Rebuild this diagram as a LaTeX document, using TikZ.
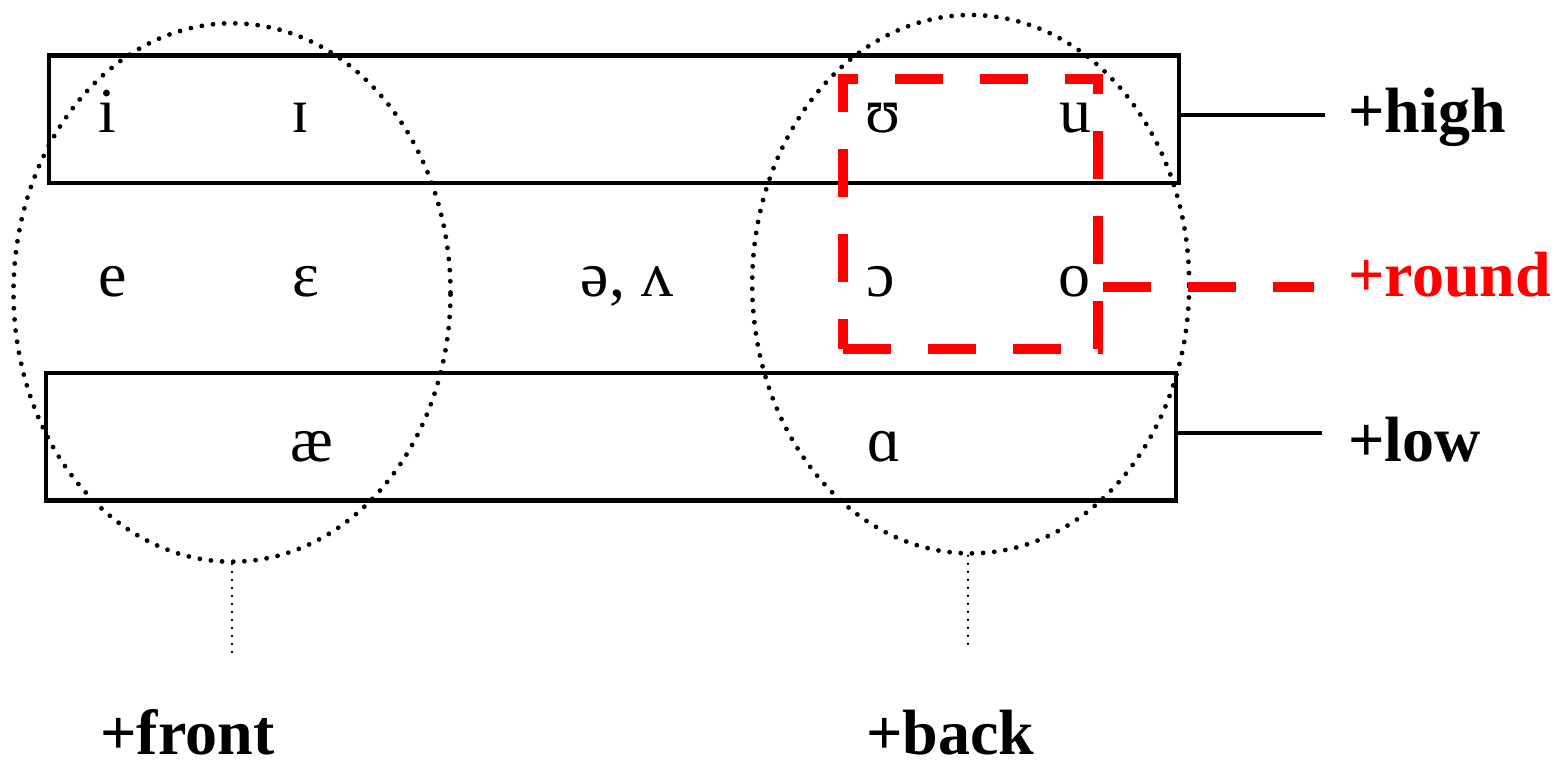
\documentclass[tikz,border=0pt]{standalone}
\usepackage{fontspec}
\setmainfont{Liberation Serif}
\usetikzlibrary{shapes.geometric}
\definecolor{roundred}{RGB}{255,0,0}

\tikzset{
  vowel/.style={anchor=base, inner sep=0pt, font=\fontsize{32}{38}\selectfont},
  feat/.style={anchor=base west, inner sep=0pt, font=\fontsize{32}{38}\selectfont\bfseries},
  featbox/.style={draw, line width=2.4pt, inner sep=0pt, minimum width=565pt, minimum height=63.75pt},
  blob/.style={ellipse, draw, line width=2.4pt, line cap=round, dash pattern=on 0pt off 5.6pt,
               inner sep=0pt, minimum width=218.5pt, minimum height=269.2pt},
  stem/.style={line width=1.4pt, line cap=round, dash pattern=on 0pt off 4pt},
  tick/.style={line width=1.6pt},
  redline/.style={draw=roundred, line width=5pt, dash pattern=on 24pt off 18.5pt},
}

\begin{document}
\begin{tikzpicture}[x=0.5pt, y=-0.5pt]
  \useasboundingbox (0,0) rectangle (1554,769);

  % High / low boxes
  \node[featbox] (high) at (614,119.25) {};
  \node[featbox] (low) at (611,436.75) {};

  % Front / back regions
  \node[blob] (front) at (232,292.5) {};
  \node[blob] (back) at (970.7,284.2) {};

  % Vowels
  \foreach \n/\x/\y/\v in {i/107/133/i, ih/300/133/ɪ, uh/883/133/ʊ, u/1075/133/u,
                           e/113/297/e, eh/306/297/ɛ, schwa/627/297/{ə, ʌ},
                           oh/881/297/ɔ, o/1074/297/o, ae/312/462/æ, ah/884/462/ɑ}
    \node[vowel] (v\n) at (\x,\y) {\v};

  % Round box
  \node[redline, inner sep=0pt, minimum width=127.5pt, minimum height=135pt] (round) at (970.5,214) {};

  % Feature labels
  \node[feat] (highlab) at (1348,133) {+high};
  \node[feat, text=roundred] (roundlab) at (1348,297) {+round};
  \node[feat] (lowlab) at (1348,462) {+low};
  \node[feat] (frontlab) at (100,755) {+front};
  \node[feat] (backlab) at (866,755) {+back};

  \coordinate (hightip) at (1325,115);
  \coordinate (roundtip) at (1314,287);
  \coordinate (lowtip) at (1322,433);
  \coordinate (fronttip) at (232,655);
  \coordinate (backtip) at (968,645);

  \draw[tick] (hightip -| high.east) -- (hightip);
  \draw[tick] (lowtip -| low.east) -- (lowtip);
  \draw[redline] (roundtip -| round.east) -- (roundtip);
  \draw[stem] (front.south) -- (fronttip);
  \draw[stem] (backtip |- back.south) -- (backtip);
\end{tikzpicture}
\end{document}
